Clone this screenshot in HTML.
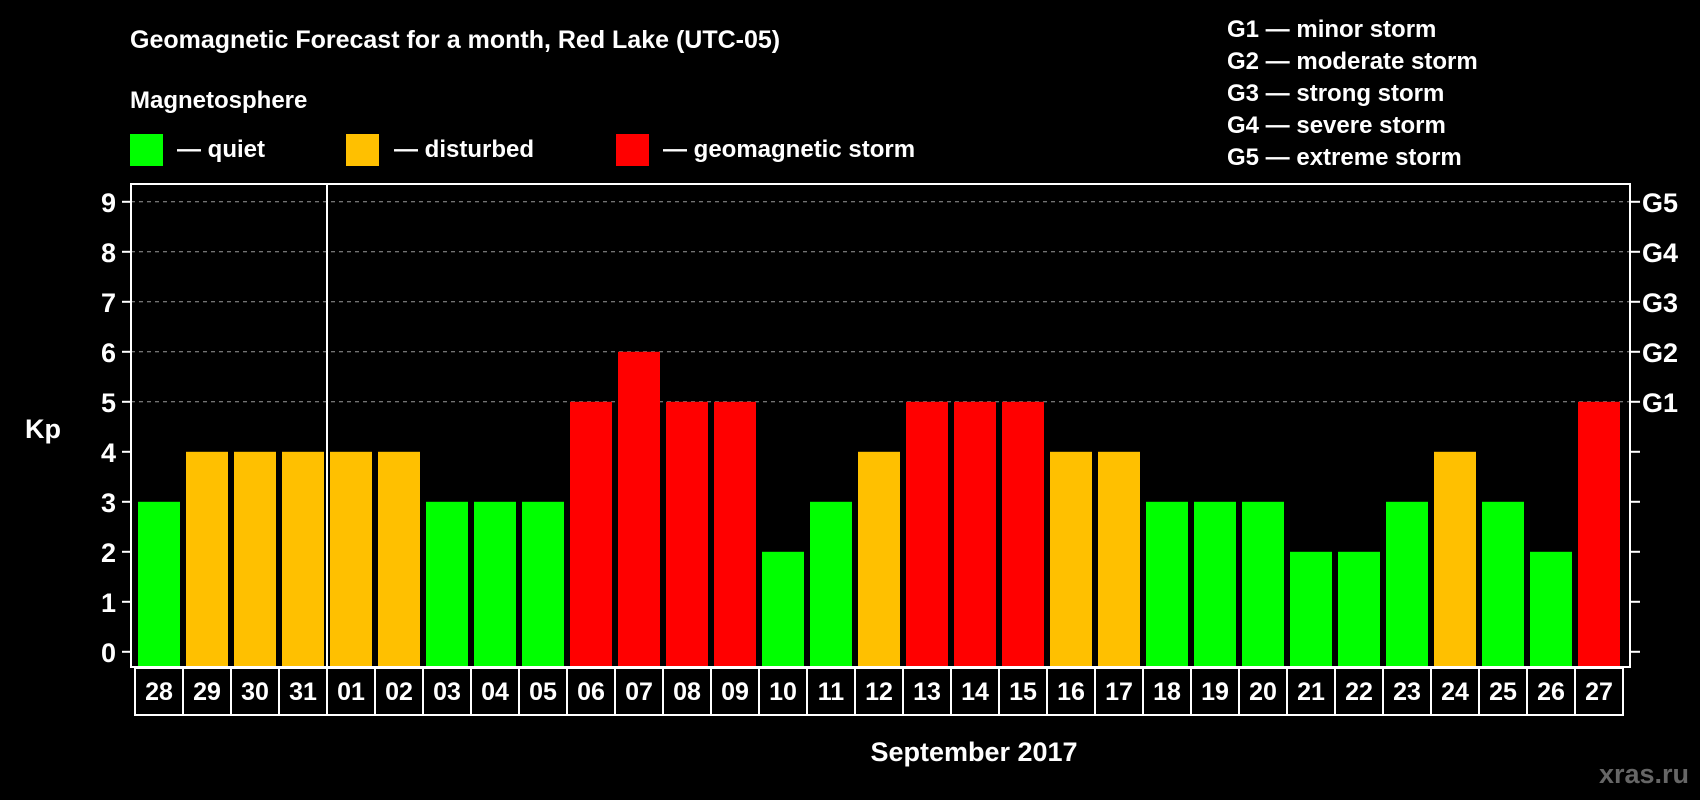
<!DOCTYPE html>
<html><head><meta charset="utf-8"><style>
html,body{margin:0;padding:0;background:#000;width:1700px;height:800px;overflow:hidden}
svg{display:block}
text{font-family:"Liberation Sans",Arial,sans-serif;font-weight:bold;fill:#fff}
</style></head><body>
<svg id="chart" width="1700" height="800" xmlns="http://www.w3.org/2000/svg">
<text x="130" y="48" font-size="25">Geomagnetic Forecast for a month, Red Lake (UTC-05)</text>
<text x="130" y="108" font-size="24">Magnetosphere</text>
<g><rect x="130" y="134" width="33" height="32" fill="#00ff00"/><text x="177" y="157" font-size="24">— quiet</text></g>
<g><rect x="346" y="134" width="33" height="32" fill="#ffc000"/><text x="394" y="157" font-size="24">— disturbed</text></g>
<g><rect x="616" y="134" width="33" height="32" fill="#ff0000"/><text x="663" y="157" font-size="24">— geomagnetic storm</text></g>
<g font-size="24">
<text x="1227" y="37">G1 — minor storm</text>
<text x="1227" y="69">G2 — moderate storm</text>
<text x="1227" y="101">G3 — strong storm</text>
<text x="1227" y="133">G4 — severe storm</text>
<text x="1227" y="165">G5 — extreme storm</text>
</g>
<g id="grid"></g>
<g id="bars"></g>
<rect x="131" y="184" width="1499" height="483" fill="none" stroke="#fff" stroke-width="2"/>
<line x1="327" y1="184" x2="327" y2="667" stroke="#fff" stroke-width="2"/>
<g id="axes"></g>
<g id="dates"></g>
<text x="43" y="438" font-size="27" text-anchor="middle">Kp</text>
<text x="974" y="761" font-size="27" text-anchor="middle">September 2017</text>
<text x="1689" y="783" font-size="27" text-anchor="end" style="fill:#666">xras.ru</text>
</svg>
<script>
const days = ["28","29","30","31","01","02","03","04","05","06","07","08","09","10","11","12","13","14","15","16","17","18","19","20","21","22","23","24","25","26","27"];
const kp = [3,4,4,4,4,4,3,3,3,5,6,5,5,2,3,4,5,5,5,4,4,3,3,3,2,2,3,4,3,2,5];
const yTicks = ["0","1","2","3","4","5","6","7","8","9"];
const gLabels = ["","","","","","G1","G2","G3","G4","G5"];
const NS="http://www.w3.org/2000/svg";
function y(v){return 651.8 - v*50;}
function x(i){return 138 + i*48;}
function mk(tag,attrs,parent,txt){const e=document.createElementNS(NS,tag);for(const k in attrs)e.setAttribute(k,attrs[k]);if(txt!==undefined)e.textContent=txt;parent.appendChild(e);return e;}
function color(v){return v>=5?"#ff0000":(v>=4?"#ffc000":"#00ff00");}
const grid=document.getElementById('grid'),bars=document.getElementById('bars'),axes=document.getElementById('axes'),dates=document.getElementById('dates');
yTicks.forEach((t,i)=>{
  const yy=y(i);
  if(i>=5){const g=mk('line',{x1:131,x2:1630,y1:yy,y2:yy,stroke:'#999','stroke-width':1,'stroke-dasharray':'4,4'},grid);
  
  }
  const tl=mk('line',{x1:122,x2:131,y1:yy,y2:yy,stroke:'#fff','stroke-width':2},axes);
  
  
  const lb=mk('text',{x:116,y:yy+10,'font-size':27,'text-anchor':'end'},axes,t);
  
  
  const tr=mk('line',{x1:1630,x2:1640,y1:yy,y2:yy,stroke:'#fff','stroke-width':2},axes);
  
  
  if(gLabels[i]){const gl=mk('text',{x:1642,y:yy+10,'font-size':27},axes,gLabels[i]);
  
  }
});
kp.forEach((v,i)=>{
  const b=mk('rect',{x:x(i),y:y(v),width:42,height:667-y(v),fill:color(v)},bars);
  
  
});
days.forEach((d,i)=>{
  const bx=x(i)-3;
  const r=mk('rect',{x:bx,y:668,width:48,height:47,fill:'none',stroke:'#fff','stroke-width':2},dates);
  
  
  const t=mk('text',{x:bx+24,y:700,'font-size':25,'text-anchor':'middle'},dates,d);
  
  
});
</script>
</body></html>
